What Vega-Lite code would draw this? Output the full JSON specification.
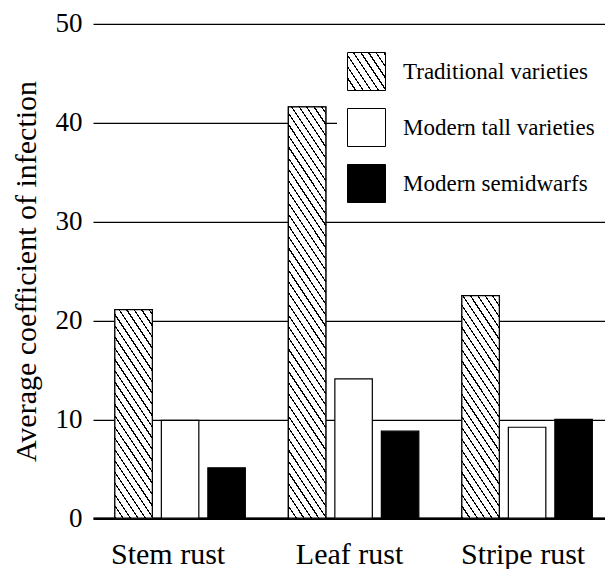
{
"$schema":"https://vega.github.io/schema/vega-lite/v6.json",
"width":512,"height":494.4,
"autosize":{"type":"none"},
"padding":{"left":93,"top":23.8,"right":0,"bottom":50.8},
"background":"white",
"data":{"values":[
{"rust":"Stem rust","variety":"Traditional varieties","value":21.1},
{"rust":"Stem rust","variety":"Modern tall varieties","value":9.9},
{"rust":"Stem rust","variety":"Modern semidwarfs","value":5.1},
{"rust":"Leaf rust","variety":"Traditional varieties","value":41.6},
{"rust":"Leaf rust","variety":"Modern tall varieties","value":14.1},
{"rust":"Leaf rust","variety":"Modern semidwarfs","value":8.8},
{"rust":"Stripe rust","variety":"Traditional varieties","value":22.5},
{"rust":"Stripe rust","variety":"Modern tall varieties","value":9.2},
{"rust":"Stripe rust","variety":"Modern semidwarfs","value":10.0}
]},
"encoding":{
"x":{"field":"rust","type":"nominal","sort":["Stem rust","Leaf rust","Stripe rust"],
"scale":{"paddingInner":0.196,"paddingOuter":0.0735,"align":0.68},
"axis":{"title":null,"ticks":false,"domain":true,"domainColor":"#000","domainWidth":2.5,"grid":false,"labelFont":"Liberation Serif","labelFontSize":30,"labelColor":"#000","labelPadding":21,"labelAngle":0,"labelOffset":{"condition":{"test":"datum.value === 'Stem rust'","value":-12},"value":-4}}},
"xOffset":{"field":"variety","type":"nominal","sort":["Traditional varieties","Modern tall varieties","Modern semidwarfs"],
"scale":{"domain":["Traditional varieties","Modern tall varieties","Modern semidwarfs"],"paddingInner":0.194,"paddingOuter":0.097}},
"y":{"field":"value","type":"quantitative","stack":null,"scale":{"domain":[0,50],"nice":false},
"axis":{"title":"Average coefficient of infection","titleFont":"Liberation Serif","titleFontSize":30,"titleFontWeight":"normal","titleColor":"#000","titleX":-58,"titleY":247.2,"titleBaseline":"alphabetic","titleAngle":-90,"titleAlign":"center","values":[0,10,20,30,40,50],"ticks":false,"domain":false,"grid":true,"gridColor":"#000","gridWidth":1.3,"labelFont":"Liberation Serif","labelFontSize":27,"labelColor":"#000","labelPadding":11}}
},
"layer":[
{
"mark":{"type":"bar","strokeWidth":1.2},
"encoding":{
"fill":{"field":"variety","type":"nominal","legend":null,
"scale":{"range":["#000000","#ffffff","#ffffff"]}},
"stroke":{"field":"variety","type":"nominal",
"scale":{"domain":["Traditional varieties","Modern tall varieties","Modern semidwarfs"],"range":["#000000","#000000","#000000"]},
"legend":{"title":null,"orient":"none","legendX":244,"legendY":18.2,"padding":10,"fillColor":"#fff","symbolType":"square","symbolSize":1444,"symbolStrokeWidth":1,"labelFont":"Liberation Serif","labelFontSize":23,"labelColor":"#000","labelOffset":17,"labelLimit":0,"rowPadding":13,
"symbolFillColor":[
{"test":"datum.value === 'Traditional varieties'","value":{"gradient":"linear","x1":0,"y1":1,"x2":1.1538,"y2":0.2308,"stops":[
{"offset":0,"color":"#000"},{"offset":0.0225,"color":"#000"},{"offset":0.0225,"color":"#fff"},{"offset":0.12,"color":"#fff"},
{"offset":0.12,"color":"#000"},{"offset":0.1425,"color":"#000"},{"offset":0.1425,"color":"#fff"},{"offset":0.24,"color":"#fff"},
{"offset":0.24,"color":"#000"},{"offset":0.2625,"color":"#000"},{"offset":0.2625,"color":"#fff"},{"offset":0.36,"color":"#fff"},
{"offset":0.36,"color":"#000"},{"offset":0.3825,"color":"#000"},{"offset":0.3825,"color":"#fff"},{"offset":0.48,"color":"#fff"},
{"offset":0.48,"color":"#000"},{"offset":0.5025,"color":"#000"},{"offset":0.5025,"color":"#fff"},{"offset":0.6,"color":"#fff"},
{"offset":0.6,"color":"#000"},{"offset":0.6225,"color":"#000"},{"offset":0.6225,"color":"#fff"},{"offset":0.72,"color":"#fff"},
{"offset":0.72,"color":"#000"},{"offset":0.7425,"color":"#000"},{"offset":0.7425,"color":"#fff"},{"offset":0.84,"color":"#fff"},
{"offset":0.84,"color":"#000"},{"offset":0.8625,"color":"#000"},{"offset":0.8625,"color":"#fff"},{"offset":0.96,"color":"#fff"},
{"offset":0.96,"color":"#000"},{"offset":0.9825,"color":"#000"},{"offset":0.9825,"color":"#fff"},{"offset":1,"color":"#fff"}
]}},
{"test":"datum.value === 'Modern semidwarfs'","value":"#000000"},
{"value":"#ffffff"}]}}
}
},
{
"transform":[{"filter":"datum.variety === 'Traditional varieties'"}],
"mark":{"type":"bar","stroke":"#000","strokeWidth":1.2},
"encoding":{
"fill":{"condition":[
{"test":"datum.rust === 'Stem rust'","value":{"gradient":"linear","x1":0,"y1":1,"x2":0.3187,"y2":-0.1835,"stops":[
{"offset":0,"color":"#000"},{"offset":0.008,"color":"#000"},{"offset":0.008,"color":"#fff"},{"offset":0.0425,"color":"#fff"},
{"offset":0.0425,"color":"#000"},{"offset":0.0505,"color":"#000"},{"offset":0.0505,"color":"#fff"},{"offset":0.085,"color":"#fff"},
{"offset":0.085,"color":"#000"},{"offset":0.093,"color":"#000"},{"offset":0.093,"color":"#fff"},{"offset":0.1275,"color":"#fff"},
{"offset":0.1275,"color":"#000"},{"offset":0.1355,"color":"#000"},{"offset":0.1355,"color":"#fff"},{"offset":0.17,"color":"#fff"},
{"offset":0.17,"color":"#000"},{"offset":0.178,"color":"#000"},{"offset":0.178,"color":"#fff"},{"offset":0.2125,"color":"#fff"},
{"offset":0.2125,"color":"#000"},{"offset":0.2205,"color":"#000"},{"offset":0.2205,"color":"#fff"},{"offset":0.255,"color":"#fff"},
{"offset":0.255,"color":"#000"},{"offset":0.263,"color":"#000"},{"offset":0.263,"color":"#fff"},{"offset":0.2975,"color":"#fff"},
{"offset":0.2975,"color":"#000"},{"offset":0.3055,"color":"#000"},{"offset":0.3055,"color":"#fff"},{"offset":0.34,"color":"#fff"},
{"offset":0.34,"color":"#000"},{"offset":0.348,"color":"#000"},{"offset":0.348,"color":"#fff"},{"offset":0.3825,"color":"#fff"},
{"offset":0.3825,"color":"#000"},{"offset":0.3905,"color":"#000"},{"offset":0.3905,"color":"#fff"},{"offset":0.425,"color":"#fff"},
{"offset":0.425,"color":"#000"},{"offset":0.433,"color":"#000"},{"offset":0.433,"color":"#fff"},{"offset":0.4675,"color":"#fff"},
{"offset":0.4675,"color":"#000"},{"offset":0.4755,"color":"#000"},{"offset":0.4755,"color":"#fff"},{"offset":0.51,"color":"#fff"},
{"offset":0.51,"color":"#000"},{"offset":0.518,"color":"#000"},{"offset":0.518,"color":"#fff"},{"offset":0.5525,"color":"#fff"},
{"offset":0.5525,"color":"#000"},{"offset":0.5605,"color":"#000"},{"offset":0.5605,"color":"#fff"},{"offset":0.595,"color":"#fff"},
{"offset":0.595,"color":"#000"},{"offset":0.603,"color":"#000"},{"offset":0.603,"color":"#fff"},{"offset":0.6375,"color":"#fff"},
{"offset":0.6375,"color":"#000"},{"offset":0.6455,"color":"#000"},{"offset":0.6455,"color":"#fff"},{"offset":0.68,"color":"#fff"},
{"offset":0.68,"color":"#000"},{"offset":0.688,"color":"#000"},{"offset":0.688,"color":"#fff"},{"offset":0.7225,"color":"#fff"},
{"offset":0.7225,"color":"#000"},{"offset":0.7305,"color":"#000"},{"offset":0.7305,"color":"#fff"},{"offset":0.765,"color":"#fff"},
{"offset":0.765,"color":"#000"},{"offset":0.773,"color":"#000"},{"offset":0.773,"color":"#fff"},{"offset":0.8075,"color":"#fff"},
{"offset":0.8075,"color":"#000"},{"offset":0.8155,"color":"#000"},{"offset":0.8155,"color":"#fff"},{"offset":0.85,"color":"#fff"},
{"offset":0.85,"color":"#000"},{"offset":0.858,"color":"#000"},{"offset":0.858,"color":"#fff"},{"offset":0.8925,"color":"#fff"},
{"offset":0.8925,"color":"#000"},{"offset":0.9005,"color":"#000"},{"offset":0.9005,"color":"#fff"},{"offset":0.935,"color":"#fff"},
{"offset":0.935,"color":"#000"},{"offset":0.943,"color":"#000"},{"offset":0.943,"color":"#fff"},{"offset":0.9775,"color":"#fff"},
{"offset":0.9775,"color":"#000"},{"offset":0.9855,"color":"#000"},{"offset":0.9855,"color":"#fff"},{"offset":1,"color":"#fff"}
]}},
{"test":"datum.rust === 'Leaf rust'","value":{"gradient":"linear","x1":0,"y1":1,"x2":0.1528,"y2":-0.116,"stops":[
{"offset":0,"color":"#000"},{"offset":0.0045,"color":"#000"},{"offset":0.0045,"color":"#fff"},{"offset":0.024,"color":"#fff"},
{"offset":0.024,"color":"#000"},{"offset":0.0285,"color":"#000"},{"offset":0.0285,"color":"#fff"},{"offset":0.048,"color":"#fff"},
{"offset":0.048,"color":"#000"},{"offset":0.0525,"color":"#000"},{"offset":0.0525,"color":"#fff"},{"offset":0.072,"color":"#fff"},
{"offset":0.072,"color":"#000"},{"offset":0.0765,"color":"#000"},{"offset":0.0765,"color":"#fff"},{"offset":0.096,"color":"#fff"},
{"offset":0.096,"color":"#000"},{"offset":0.1005,"color":"#000"},{"offset":0.1005,"color":"#fff"},{"offset":0.12,"color":"#fff"},
{"offset":0.12,"color":"#000"},{"offset":0.1245,"color":"#000"},{"offset":0.1245,"color":"#fff"},{"offset":0.144,"color":"#fff"},
{"offset":0.144,"color":"#000"},{"offset":0.1485,"color":"#000"},{"offset":0.1485,"color":"#fff"},{"offset":0.168,"color":"#fff"},
{"offset":0.168,"color":"#000"},{"offset":0.1725,"color":"#000"},{"offset":0.1725,"color":"#fff"},{"offset":0.192,"color":"#fff"},
{"offset":0.192,"color":"#000"},{"offset":0.1965,"color":"#000"},{"offset":0.1965,"color":"#fff"},{"offset":0.216,"color":"#fff"},
{"offset":0.216,"color":"#000"},{"offset":0.2205,"color":"#000"},{"offset":0.2205,"color":"#fff"},{"offset":0.24,"color":"#fff"},
{"offset":0.24,"color":"#000"},{"offset":0.2445,"color":"#000"},{"offset":0.2445,"color":"#fff"},{"offset":0.264,"color":"#fff"},
{"offset":0.264,"color":"#000"},{"offset":0.2685,"color":"#000"},{"offset":0.2685,"color":"#fff"},{"offset":0.288,"color":"#fff"},
{"offset":0.288,"color":"#000"},{"offset":0.2925,"color":"#000"},{"offset":0.2925,"color":"#fff"},{"offset":0.312,"color":"#fff"},
{"offset":0.312,"color":"#000"},{"offset":0.3165,"color":"#000"},{"offset":0.3165,"color":"#fff"},{"offset":0.336,"color":"#fff"},
{"offset":0.336,"color":"#000"},{"offset":0.3405,"color":"#000"},{"offset":0.3405,"color":"#fff"},{"offset":0.36,"color":"#fff"},
{"offset":0.36,"color":"#000"},{"offset":0.3645,"color":"#000"},{"offset":0.3645,"color":"#fff"},{"offset":0.384,"color":"#fff"},
{"offset":0.384,"color":"#000"},{"offset":0.3885,"color":"#000"},{"offset":0.3885,"color":"#fff"},{"offset":0.408,"color":"#fff"},
{"offset":0.408,"color":"#000"},{"offset":0.4125,"color":"#000"},{"offset":0.4125,"color":"#fff"},{"offset":0.432,"color":"#fff"},
{"offset":0.432,"color":"#000"},{"offset":0.4365,"color":"#000"},{"offset":0.4365,"color":"#fff"},{"offset":0.456,"color":"#fff"},
{"offset":0.456,"color":"#000"},{"offset":0.4605,"color":"#000"},{"offset":0.4605,"color":"#fff"},{"offset":0.48,"color":"#fff"},
{"offset":0.48,"color":"#000"},{"offset":0.4845,"color":"#000"},{"offset":0.4845,"color":"#fff"},{"offset":0.504,"color":"#fff"},
{"offset":0.504,"color":"#000"},{"offset":0.5085,"color":"#000"},{"offset":0.5085,"color":"#fff"},{"offset":0.528,"color":"#fff"},
{"offset":0.528,"color":"#000"},{"offset":0.5325,"color":"#000"},{"offset":0.5325,"color":"#fff"},{"offset":0.552,"color":"#fff"},
{"offset":0.552,"color":"#000"},{"offset":0.5565,"color":"#000"},{"offset":0.5565,"color":"#fff"},{"offset":0.576,"color":"#fff"},
{"offset":0.576,"color":"#000"},{"offset":0.5805,"color":"#000"},{"offset":0.5805,"color":"#fff"},{"offset":0.6,"color":"#fff"},
{"offset":0.6,"color":"#000"},{"offset":0.6045,"color":"#000"},{"offset":0.6045,"color":"#fff"},{"offset":0.624,"color":"#fff"},
{"offset":0.624,"color":"#000"},{"offset":0.6285,"color":"#000"},{"offset":0.6285,"color":"#fff"},{"offset":0.648,"color":"#fff"},
{"offset":0.648,"color":"#000"},{"offset":0.6525,"color":"#000"},{"offset":0.6525,"color":"#fff"},{"offset":0.672,"color":"#fff"},
{"offset":0.672,"color":"#000"},{"offset":0.6765,"color":"#000"},{"offset":0.6765,"color":"#fff"},{"offset":0.696,"color":"#fff"},
{"offset":0.696,"color":"#000"},{"offset":0.7005,"color":"#000"},{"offset":0.7005,"color":"#fff"},{"offset":0.72,"color":"#fff"},
{"offset":0.72,"color":"#000"},{"offset":0.7245,"color":"#000"},{"offset":0.7245,"color":"#fff"},{"offset":0.744,"color":"#fff"},
{"offset":0.744,"color":"#000"},{"offset":0.7485,"color":"#000"},{"offset":0.7485,"color":"#fff"},{"offset":0.768,"color":"#fff"},
{"offset":0.768,"color":"#000"},{"offset":0.7725,"color":"#000"},{"offset":0.7725,"color":"#fff"},{"offset":0.792,"color":"#fff"},
{"offset":0.792,"color":"#000"},{"offset":0.7965,"color":"#000"},{"offset":0.7965,"color":"#fff"},{"offset":0.816,"color":"#fff"},
{"offset":0.816,"color":"#000"},{"offset":0.8205,"color":"#000"},{"offset":0.8205,"color":"#fff"},{"offset":0.84,"color":"#fff"},
{"offset":0.84,"color":"#000"},{"offset":0.8445,"color":"#000"},{"offset":0.8445,"color":"#fff"},{"offset":0.864,"color":"#fff"},
{"offset":0.864,"color":"#000"},{"offset":0.8685,"color":"#000"},{"offset":0.8685,"color":"#fff"},{"offset":0.888,"color":"#fff"},
{"offset":0.888,"color":"#000"},{"offset":0.8925,"color":"#000"},{"offset":0.8925,"color":"#fff"},{"offset":0.912,"color":"#fff"},
{"offset":0.912,"color":"#000"},{"offset":0.9165,"color":"#000"},{"offset":0.9165,"color":"#fff"},{"offset":0.936,"color":"#fff"},
{"offset":0.936,"color":"#000"},{"offset":0.9405,"color":"#000"},{"offset":0.9405,"color":"#fff"},{"offset":0.96,"color":"#fff"},
{"offset":0.96,"color":"#000"},{"offset":0.9645,"color":"#000"},{"offset":0.9645,"color":"#fff"},{"offset":0.984,"color":"#fff"},
{"offset":0.984,"color":"#000"},{"offset":0.9885,"color":"#000"},{"offset":0.9885,"color":"#fff"},{"offset":1,"color":"#fff"}
]}}],
"value":{"gradient":"linear","x1":0,"y1":1,"x2":0.2981,"y2":-0.1777,"stops":[
{"offset":0,"color":"#000"},{"offset":0.0075,"color":"#000"},{"offset":0.0075,"color":"#fff"},{"offset":0.04,"color":"#fff"},
{"offset":0.04,"color":"#000"},{"offset":0.0475,"color":"#000"},{"offset":0.0475,"color":"#fff"},{"offset":0.08,"color":"#fff"},
{"offset":0.08,"color":"#000"},{"offset":0.0875,"color":"#000"},{"offset":0.0875,"color":"#fff"},{"offset":0.12,"color":"#fff"},
{"offset":0.12,"color":"#000"},{"offset":0.1275,"color":"#000"},{"offset":0.1275,"color":"#fff"},{"offset":0.16,"color":"#fff"},
{"offset":0.16,"color":"#000"},{"offset":0.1675,"color":"#000"},{"offset":0.1675,"color":"#fff"},{"offset":0.2,"color":"#fff"},
{"offset":0.2,"color":"#000"},{"offset":0.2075,"color":"#000"},{"offset":0.2075,"color":"#fff"},{"offset":0.24,"color":"#fff"},
{"offset":0.24,"color":"#000"},{"offset":0.2475,"color":"#000"},{"offset":0.2475,"color":"#fff"},{"offset":0.28,"color":"#fff"},
{"offset":0.28,"color":"#000"},{"offset":0.2875,"color":"#000"},{"offset":0.2875,"color":"#fff"},{"offset":0.32,"color":"#fff"},
{"offset":0.32,"color":"#000"},{"offset":0.3275,"color":"#000"},{"offset":0.3275,"color":"#fff"},{"offset":0.36,"color":"#fff"},
{"offset":0.36,"color":"#000"},{"offset":0.3675,"color":"#000"},{"offset":0.3675,"color":"#fff"},{"offset":0.4,"color":"#fff"},
{"offset":0.4,"color":"#000"},{"offset":0.4075,"color":"#000"},{"offset":0.4075,"color":"#fff"},{"offset":0.44,"color":"#fff"},
{"offset":0.44,"color":"#000"},{"offset":0.4475,"color":"#000"},{"offset":0.4475,"color":"#fff"},{"offset":0.48,"color":"#fff"},
{"offset":0.48,"color":"#000"},{"offset":0.4875,"color":"#000"},{"offset":0.4875,"color":"#fff"},{"offset":0.52,"color":"#fff"},
{"offset":0.52,"color":"#000"},{"offset":0.5275,"color":"#000"},{"offset":0.5275,"color":"#fff"},{"offset":0.56,"color":"#fff"},
{"offset":0.56,"color":"#000"},{"offset":0.5675,"color":"#000"},{"offset":0.5675,"color":"#fff"},{"offset":0.6,"color":"#fff"},
{"offset":0.6,"color":"#000"},{"offset":0.6075,"color":"#000"},{"offset":0.6075,"color":"#fff"},{"offset":0.64,"color":"#fff"},
{"offset":0.64,"color":"#000"},{"offset":0.6475,"color":"#000"},{"offset":0.6475,"color":"#fff"},{"offset":0.68,"color":"#fff"},
{"offset":0.68,"color":"#000"},{"offset":0.6875,"color":"#000"},{"offset":0.6875,"color":"#fff"},{"offset":0.72,"color":"#fff"},
{"offset":0.72,"color":"#000"},{"offset":0.7275,"color":"#000"},{"offset":0.7275,"color":"#fff"},{"offset":0.76,"color":"#fff"},
{"offset":0.76,"color":"#000"},{"offset":0.7675,"color":"#000"},{"offset":0.7675,"color":"#fff"},{"offset":0.8,"color":"#fff"},
{"offset":0.8,"color":"#000"},{"offset":0.8075,"color":"#000"},{"offset":0.8075,"color":"#fff"},{"offset":0.84,"color":"#fff"},
{"offset":0.84,"color":"#000"},{"offset":0.8475,"color":"#000"},{"offset":0.8475,"color":"#fff"},{"offset":0.88,"color":"#fff"},
{"offset":0.88,"color":"#000"},{"offset":0.8875,"color":"#000"},{"offset":0.8875,"color":"#fff"},{"offset":0.92,"color":"#fff"},
{"offset":0.92,"color":"#000"},{"offset":0.9275,"color":"#000"},{"offset":0.9275,"color":"#fff"},{"offset":0.96,"color":"#fff"},
{"offset":0.96,"color":"#000"},{"offset":0.9675,"color":"#000"},{"offset":0.9675,"color":"#fff"},{"offset":1,"color":"#fff"}
]}}
}
}
],
"config":{"view":{"stroke":null},"font":"Liberation Serif"}
}
